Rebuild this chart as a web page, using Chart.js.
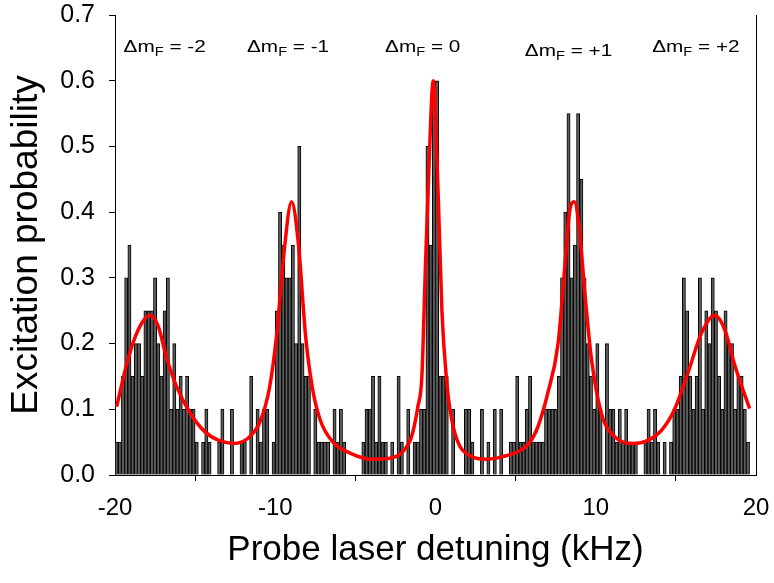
<!DOCTYPE html>
<html>
<head>
<meta charset="utf-8">
<title>Excitation spectrum</title>
<script src="https://cdn.jsdelivr.net/npm/chart.js@4.4.1/dist/chart.umd.min.js"></script>
<style>
    html, body { margin: 0; padding: 0; background: #ffffff; }
    #wrap { width: 774px; height: 583px; }
</style>
</head>
<body>
<div id="wrap"><canvas id="chart" width="774" height="583"></canvas></div>
<script>
// Histogram bin centres (kHz)
const detuning = [
    -19.9, -19.7, -19.5, -19.3, -19.1, -18.9, -18.7, -18.5, -18.3, -18.1,
    -17.9, -17.7, -17.5, -17.3, -17.1, -16.9, -16.7, -16.5, -16.3, -16.1,
    -15.9, -15.7, -15.5, -15.3, -15.1, -14.9, -14.7, -14.5, -14.3, -14.1,
    -13.9, -13.7, -13.5, -13.3, -13.1, -12.9, -12.7, -12.5, -12.3, -12.1,
    -11.9, -11.7, -11.5, -11.3, -11.1, -10.9, -10.7, -10.5, -10.3, -10.1,
    -9.9, -9.7, -9.5, -9.3, -9.1, -8.9, -8.7, -8.5, -8.3, -8.1,
    -7.9, -7.7, -7.5, -7.3, -7.1, -6.9, -6.7, -6.5, -6.3, -6.1,
    -5.9, -5.7, -5.5, -5.3, -5.1, -4.9, -4.7, -4.5, -4.3, -4.1,
    -3.9, -3.7, -3.5, -3.3, -3.1, -2.9, -2.7, -2.5, -2.3, -2.1,
    -1.9, -1.7, -1.5, -1.3, -1.1, -0.9, -0.7, -0.5, -0.3, -0.1,
    0.1, 0.3, 0.5, 0.7, 0.9, 1.1, 1.3, 1.5, 1.7, 1.9,
    2.1, 2.3, 2.5, 2.7, 2.9, 3.1, 3.3, 3.5, 3.7, 3.9,
    4.1, 4.3, 4.5, 4.7, 4.9, 5.1, 5.3, 5.5, 5.7, 5.9,
    6.1, 6.3, 6.5, 6.7, 6.9, 7.1, 7.3, 7.5, 7.7, 7.9,
    8.1, 8.3, 8.5, 8.7, 8.9, 9.1, 9.3, 9.5, 9.7, 9.9,
    10.1, 10.3, 10.5, 10.7, 10.9, 11.1, 11.3, 11.5, 11.7, 11.9,
    12.1, 12.3, 12.5, 12.7, 12.9, 13.1, 13.3, 13.5, 13.7, 13.9,
    14.1, 14.3, 14.5, 14.7, 14.9, 15.1, 15.3, 15.5, 15.7, 15.9,
    16.1, 16.3, 16.5, 16.7, 16.9, 17.1, 17.3, 17.5, 17.7, 17.9,
    18.1, 18.3, 18.5, 18.7, 18.9, 19.1, 19.3, 19.5, 19.7, 19.9
];

// Measured excitation probability per bin
const excitation = [
    0.05, 0.05, 0.15, 0.3, 0.35, 0.15, 0.2, 0.2, 0.15, 0.25,
    0.25, 0.25, 0.3, 0.2, 0.15, 0.25, 0.3, 0.1, 0.2, 0.1,
    0.15, 0.1, 0.15, 0.1, 0.1, 0.05, 0, 0.05, 0.1, 0.05,
    0, 0, 0.05, 0.1, 0, 0, 0.1, 0, 0, 0.05,
    0.05, 0, 0.15, 0, 0.1, 0.05, 0.1, 0.1, 0, 0.05,
    0.25, 0.4, 0.35, 0.3, 0.3, 0.35, 0.2, 0.5, 0.2, 0.15,
    0.15, 0, 0.1, 0.05, 0.05, 0.05, 0.05, 0, 0.1, 0.05,
    0.1, 0.05, 0, 0, 0, 0, 0, 0.05, 0.1, 0.1,
    0.15, 0.05, 0.15, 0.05, 0.05, 0, 0.05, 0, 0.15, 0.05,
    0, 0.1, 0, 0.05, 0.05, 0.1, 0.1, 0.5, 0.35, 0.6,
    0.6, 0.15, 0.15, 0.15, 0, 0.1, 0, 0, 0, 0.1,
    0.1, 0.05, 0, 0, 0.1, 0, 0.05, 0, 0.1, 0,
    0.1, 0, 0, 0.05, 0.05, 0.15, 0.05, 0.05, 0.1, 0.15,
    0.05, 0.05, 0.05, 0.05, 0.1, 0.1, 0.1, 0.1, 0.15, 0.3,
    0.4, 0.55, 0.3, 0.35, 0.55, 0.45, 0.3, 0.2, 0.15, 0.1,
    0.2, 0.1, 0, 0.2, 0.1, 0.1, 0.05, 0.1, 0.05, 0.1,
    0.05, 0.05, 0.05, 0, 0, 0.05, 0.1, 0.05, 0.1, 0.05,
    0, 0.05, 0, 0.05, 0.1, 0.1, 0.15, 0.3, 0.25, 0.15,
    0.1, 0.15, 0.3, 0.1, 0.25, 0.2, 0.3, 0.25, 0.15, 0.1,
    0.25, 0.2, 0.2, 0.1, 0.15, 0.15, 0.1, 0.05, 0, 0
];

// Fitted curve
const fitX = [
    -19.9, -19.2, -18.55, -17.8, -17.3, -16.8, -16.15, -15.3, -14.4, -13.55,
    -12.6, -11.7, -10.95, -10.35, -9.9, -9.5, -8.98, -8.56, -8.1, -7.7,
    -7.2, -6.4, -5.3, -4.0, -3.0, -2.15, -1.5, -1.1, -0.85, -0.65,
    -0.4, -0.14, 0.17, 0.4, 0.69, 0.9, 1.35, 2.1, 3.15, 4.2,
    5.2, 5.9, 6.4, 7.0, 7.65, 8.07, 8.38, 8.66, 9.0, 9.32,
    9.74, 10.35, 11.2, 12.4, 13.3, 14.1, 14.9, 15.75, 16.6, 17.43,
    18.05, 18.7, 19.6
];
const fitY = [
    0.104, 0.175, 0.221, 0.243, 0.226, 0.18, 0.134, 0.094, 0.066, 0.053,
    0.048, 0.056, 0.081, 0.134, 0.216, 0.327, 0.416, 0.353, 0.21, 0.135,
    0.084, 0.05, 0.033, 0.024, 0.025, 0.033, 0.058, 0.104, 0.15, 0.3,
    0.475, 0.6, 0.424, 0.25, 0.145, 0.1, 0.053, 0.03, 0.024, 0.028,
    0.036, 0.05, 0.074, 0.124, 0.2, 0.317, 0.403, 0.416, 0.368, 0.277,
    0.175, 0.094, 0.058, 0.048, 0.053, 0.068, 0.099, 0.155, 0.216, 0.243,
    0.221, 0.165, 0.101
];

// Transition labels
const mfLabels = ['-2', '-1', '0', '+1', '+2'];
const mfLabelX = [-16.9, -9.2, -0.8, 8.3, 16.25];
const mfLabelY = [0.643, 0.643, 0.643, 0.638, 0.643];

const yTicks = [0, 0.1, 0.2, 0.3, 0.4, 0.5, 0.6, 0.7];
const xTicks = [-20, -10, 0, 10, 20];

const FONT = "'Liberation Sans', Arial, Helvetica, sans-serif";

const barData = detuning.map((x, i) => ({ x: x, y: excitation[i] }));
const fitData = fitX.map((x, i) => ({ x: x, y: fitY[i] }));

// Right frame line + Delta m_F labels
const extrasPlugin = {
    id: 'extras',
    afterDraw(chart) {
        const ctx = chart.ctx;
        const area = chart.chartArea;
        const xs = chart.scales.x;
        const ys = chart.scales.y;
        ctx.save();
        ctx.strokeStyle = '#000';
        ctx.lineWidth = 1;
        ctx.beginPath();
        ctx.moveTo(area.right + 0.5, area.top);
        ctx.lineTo(area.right + 0.5, area.bottom);
        ctx.stroke();

        // labels are a little wider than the font, like the original
        const stretch = 1.22;
        ctx.fillStyle = '#000';
        ctx.textBaseline = 'alphabetic';
        const bigFont = '17px ' + FONT;
        const subFont = '12px ' + FONT;
        mfLabels.forEach((lab, i) => {
            const rest = ' = ' + lab;
            ctx.font = bigFont;
            const w1 = ctx.measureText('\u0394m').width;
            const w3 = ctx.measureText(rest).width;
            ctx.font = subFont;
            const w2 = ctx.measureText('F').width;
            const total = (w1 + w2 + w3) * stretch;
            const cx = xs.getPixelForValue(mfLabelX[i]) - total / 2;
            const py = ys.getPixelForValue(mfLabelY[i]);
            ctx.save();
            ctx.translate(cx, py);
            ctx.scale(stretch, 1);
            let px = 0;
            ctx.font = bigFont;
            ctx.fillText('\u0394m', px, 0);
            px += w1;
            ctx.font = subFont;
            ctx.fillText('F', px, 4);
            px += w2;
            ctx.font = bigFont;
            ctx.fillText(rest, px, 0);
            ctx.restore();
        });
        ctx.restore();
    }
};

const chart = new Chart(document.getElementById('chart').getContext('2d'), {
    type: 'bar',
    data: {
        datasets: [
            {
                type: 'line',
                label: 'Fit',
                data: fitData,
                borderColor: '#ff0000',
                borderWidth: 3.5,
                pointRadius: 0,
                cubicInterpolationMode: 'monotone',
                fill: false,
                order: 0
            },
            {
                type: 'bar',
                label: 'Data',
                data: barData,
                backgroundColor: '#5c5c5c',
                borderColor: '#000000',
                borderWidth: 1,
                borderSkipped: 'bottom',
                barPercentage: 1.0,
                categoryPercentage: 1.0,
                order: 1
            }
        ]
    },
    options: {
        responsive: false,
        animation: false,
        layout: { padding: { left: 0, right: 18, top: 15, bottom: 0 } },
        plugins: {
            legend: { display: false },
            tooltip: { enabled: false }
        },
        scales: {
            x: {
                type: 'linear',
                min: -20,
                max: 20,
                offset: false,
                afterBuildTicks: (scale) => { scale.ticks = xTicks.map(v => ({ value: v })); },
                afterFit: (scale) => {
                    scale.height = 108;
                    scale.paddingLeft = 0;
                    scale.paddingRight = 0;
                },
                ticks: {
                    color: '#000',
                    font: { family: FONT, size: 24 },
                    padding: 13,
                    maxRotation: 0
                },
                grid: {
                    display: true,
                    drawOnChartArea: false,
                    drawTicks: true,
                    tickLength: 6,
                    color: '#000'
                },
                border: { display: true, color: '#000', width: 1 },
                title: {
                    display: true,
                    text: 'Probe laser detuning (kHz)',
                    color: '#000',
                    font: { family: FONT, size: 35 },
                    padding: { top: 0, bottom: 12 }
                }
            },
            y: {
                min: 0,
                max: 0.7,
                afterBuildTicks: (scale) => { scale.ticks = yTicks.map(v => ({ value: v })); },
                afterFit: (scale) => {
                    scale.width = 115;
                    scale.paddingTop = 0;
                    scale.paddingBottom = 0;
                },
                ticks: {
                    color: '#000',
                    font: { family: FONT, size: 25 },
                    padding: 14,
                    callback: (v) => Number(v).toFixed(1)
                },
                grid: {
                    display: true,
                    drawOnChartArea: false,
                    drawTicks: true,
                    tickLength: 6,
                    color: '#000'
                },
                border: { display: true, color: '#000', width: 1 },
                title: {
                    display: true,
                    text: 'Excitation probability',
                    color: '#000',
                    font: { family: FONT, size: 37 },
                    padding: { top: 5, bottom: 0 }
                }
            }
        }
    },
    plugins: [extrasPlugin]
});
</script>
</body>
</html>
